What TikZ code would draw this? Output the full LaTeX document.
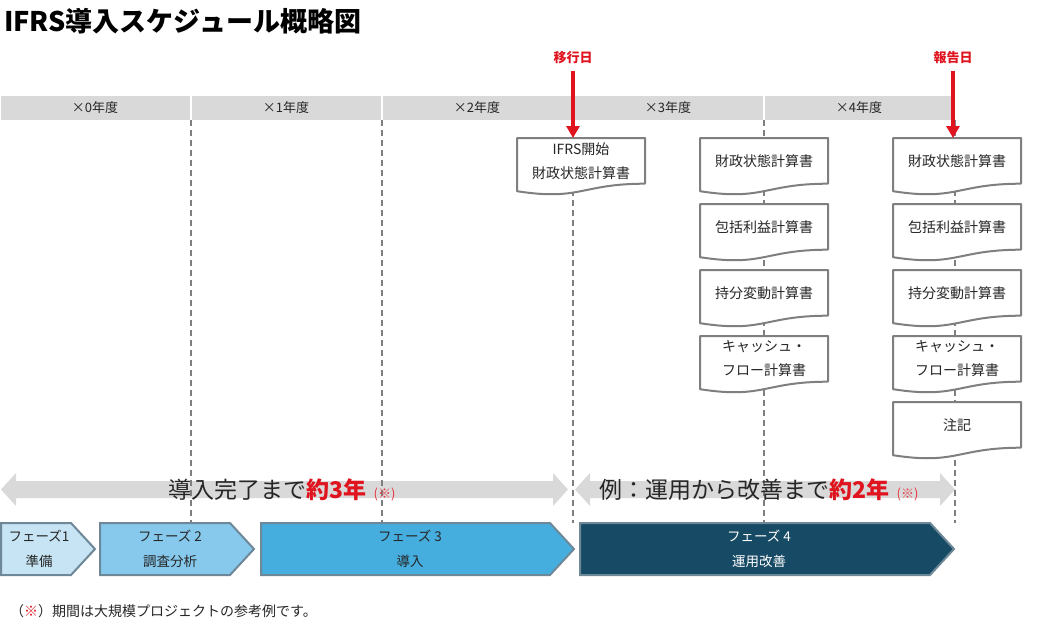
\documentclass[tikz,border=0pt]{standalone}
\usepackage{fontspec}
\setmainfont{Noto Sans CJK JP}
\usetikzlibrary{arrows.meta,calc}

\definecolor{bargray}{HTML}{D9D9D9}
\definecolor{linegray}{HTML}{7F7F7F}
\definecolor{markred}{HTML}{E0141E}
\definecolor{inkgray}{HTML}{262626}
\definecolor{phaseedge}{HTML}{6E8898}
\definecolor{phaseA}{HTML}{C6E4F4}
\definecolor{phaseB}{HTML}{86C9EC}
\definecolor{phaseC}{HTML}{45AEDF}
\definecolor{phaseD}{HTML}{174A64}

\tikzset{
  yearbox/.style={fill=bargray, minimum width=189pt, minimum height=24pt, inner sep=0pt,
    text=inkgray, font=\fontsize{13}{13}\selectfont},
  divider/.style={draw=linegray, line width=1.8pt, dash pattern=on 6pt off 4pt},
  docline/.style={draw=linegray, line width=2pt, fill=white, line join=round},
  doctext/.style={align=center, text=inkgray, font=\fontsize{14}{24}\selectfont, inner sep=0pt},
  markarrow/.style={draw=markred, line width=3.5pt, shorten <=7pt,
    -{Triangle[width=13pt,length=12pt]}},
  marklabel/.style={text=markred, inner sep=0pt, font=\fontsize{13}{13}\selectfont\bfseries},
  span/.style={fill=bargray},
  spantext/.style={text=inkgray, inner sep=0pt, font=\fontsize{23}{23}\selectfont},
  phase/.style={draw=phaseedge, line width=2pt},
  phasetext/.style={align=center, text=inkgray, inner sep=0pt, font=\fontsize{13.5}{25}\selectfont},
}

% statement sheet with a wavy foot
\newcommand{\fsdoc}[3]{%
  \coordinate (#1) at (#2);
  \path[docline] ($(#1)+(-64,0)$) -- ($(#1)+(64,0)$) -- ($(#1)+(64,45.7)$)
    .. controls ($(#1)+(0,45.7)$) and ($(#1)+(0,63.1)$) .. ($(#1)+(-64,53.2)$) -- cycle;
  \node[doctext] (#1-txt) at ($(#1)+(0,23)$) {#3};
}

\begin{document}
\begin{tikzpicture}[x=1pt,y=-1pt]
  \useasboundingbox (0,0) rectangle (1038,626);

  \node[anchor=west, inner sep=0pt, font=\fontsize{27}{27}\selectfont\bfseries] (title) at (4,21) {IFRS導入スケジュール概略図};

  % fiscal years
  \foreach \i in {0,...,4}
    \node[yearbox] (yr\i) at (191*\i+95,108) {×\i{}年度};

  % spans
  \fill[span] (1,489.5) -- (16,473) -- (16,481) -- (553,481) -- (553,473) -- (568,489.5)
    -- (553,506) -- (553,498) -- (16,498) -- (16,506) -- cycle;
  \fill[span] (575,489.5) -- (590,473) -- (590,481) -- (940,481) -- (940,473) -- (955,489.5)
    -- (940,506) -- (940,498) -- (590,498) -- (590,506) -- cycle;

  \foreach \i in {0,...,4}
    \draw[divider] ($(yr\i.south east)+(1,0)$) -- ++(0,403);

  \node[spantext] (spanA) at (282,490) {導入完了まで\textcolor{markred}{\bfseries 約3年}\hspace{7pt}{\fontsize{13}{13}\selectfont\textcolor{markred!85}{(※)}}};
  \node[spantext] (spanB) at (759,490) {例：運用から改善まで\textcolor{markred}{\bfseries 約2年}\hspace{7pt}{\fontsize{13}{13}\selectfont\textcolor{markred!85}{(※)}}};

  % statements
  \fsdoc{fs0}{581,138}{IFRS開始\\財政状態計算書}

  \fsdoc{fsa}{764,138}{財政状態計算書}
  \fsdoc{fsb}{764,204}{包括利益計算書}
  \fsdoc{fsc}{764,270}{持分変動計算書}
  \fsdoc{fsd}{764,336}{キャッシュ・\\フロー計算書}

  \fsdoc{rpa}{957,138}{財政状態計算書}
  \fsdoc{rpb}{957,204}{包括利益計算書}
  \fsdoc{rpc}{957,270}{持分変動計算書}
  \fsdoc{rpd}{957,336}{キャッシュ・\\フロー計算書}
  \fsdoc{rpe}{957,402}{注記}

  % key dates
  \node[marklabel] (ikou) at (573,58) {移行日};
  \node[marklabel] (houkoku) at (953,58) {報告日};
  \draw[markarrow] (ikou.south) -- (ikou |- fs0);
  \draw[markarrow] (houkoku.south) -- (houkoku |- rpa);

  % phases
  \draw[phase, fill=phaseA] (1,523) -- (71,523) -- (95,549) -- (71,575) -- (1,575) -- cycle;
  \draw[phase, fill=phaseB] (100,523) -- (230,523) -- (254,549) -- (230,575) -- (100,575) -- cycle;
  \draw[phase, fill=phaseC] (261,523) -- (550,523) -- (574,549) -- (550,575) -- (261,575) -- cycle;
  \draw[phase, fill=phaseD] (580,523) -- (930,523) -- (954,549) -- (930,575) -- (580,575) -- cycle;
  \node[phasetext] (ph1) at (39,549) {フェーズ1\\準備};
  \node[phasetext] (ph2) at (170,549) {フェーズ 2\\調査分析};
  \node[phasetext] (ph3) at (410,549) {フェーズ 3\\導入};
  \node[phasetext, text=white] (ph4) at (759,549) {フェーズ 4\\運用改善};

  \node[anchor=west, inner sep=0pt, text=inkgray, font=\fontsize{14}{14}\selectfont] (note) at (10,611) {（\textcolor{markred}{※}）期間は大規模プロジェクトの参考例です。};
\end{tikzpicture}
\end{document}
